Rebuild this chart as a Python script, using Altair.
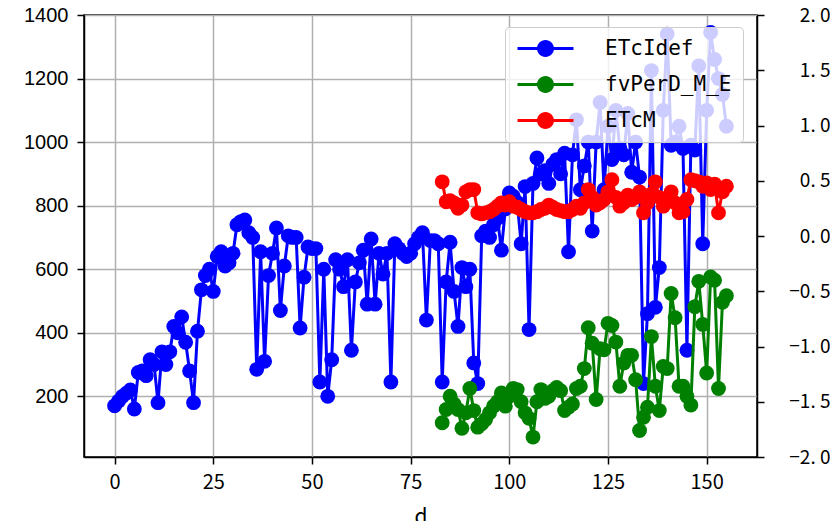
import altair as alt
import pandas as pd

# ---------------- data ----------------
series_names = ["ETcIdef", "fvPerD_M_E", "ETcM"]
series_colors = ["#0000ff", "#008000", "#ff0000"]

# ETcIdef (left axis), d = 0 .. 155
etc_idef = [170, 185, 200, 210, 220, 160, 275, 280, 265, 315,
            300, 180, 340, 300, 340, 420, 400, 450, 370, 280,
            180, 405, 535, 580, 600, 530, 640, 655, 610, 620,
            650, 740, 750, 755, 715, 700, 285, 655, 310, 580,
            650, 730, 470, 610, 705, 700, 700, 415, 575, 670,
            665, 665, 245, 600, 200, 315, 630, 600, 545, 630,
            345, 560, 620, 660, 490, 695, 490, 650, 585, 650,
            245, 680, 665, 650, 640, 650, 680, 700, 715, 440,
            690, 690, 680, 245, 560, 685, 530, 420, 605, 545,
            600, 305, 240, 705, 720, 700, 740, 760, 660, 790,
            840, 830, 810, 680, 860, 410, 870, 950, 900, 910,
            870, 930, 945, 900, 965, 655, 960, 1070, 850, 925,
            1000, 720, 1000, 1125, 850, 1050, 945, 1100, 980, 960,
            1090, 905, 1000, 890, 240, 460, 1225, 480, 605, 1100,
            1340, 990, 1000, 1050, 980, 345, 990, 975, 1240, 680,
            1100, 1345, 1260, 1200, 1150, 1050]
d_idef = list(range(len(etc_idef)))

# fvPerD_M_E and ETcM (right axis), d = 83 .. 155
fv_per = [-1.69, -1.57, -1.45, -1.52, -1.57, -1.74, -1.60, -1.38, -1.58, -1.73,
          -1.70, -1.66, -1.60, -1.54, -1.50, -1.42, -1.54, -1.45, -1.38, -1.39,
          -1.50, -1.60, -1.65, -1.82, -1.50, -1.39, -1.47, -1.45, -1.40, -1.37,
          -1.40, -1.58, -1.55, -1.52, -1.38, -1.36, -1.20, -0.83, -0.97, -1.48,
          -1.02, -1.03, -0.79, -0.81, -0.96, -1.36, -1.15, -1.08, -1.08, -1.30,
          -1.76, -1.64, -1.55, -0.91, -1.36, -1.58, -1.18, -1.20, -0.52, -0.74,
          -1.36, -1.36, -1.45, -1.53, -0.64, -0.41, -0.80, -1.24, -0.37, -0.40,
          -1.38, -0.60, -0.54]
etc_m = [0.49, 0.31, 0.32, 0.30, 0.25, 0.28, 0.40, 0.42, 0.42, 0.21,
         0.20, 0.21, 0.22, 0.24, 0.27, 0.30, 0.28, 0.31, 0.27, 0.26,
         0.24, 0.22, 0.21, 0.21, 0.22, 0.24, 0.25, 0.28, 0.26, 0.24,
         0.23, 0.22, 0.22, 0.24, 0.27, 0.25, 0.30, 0.42, 0.35, 0.28,
         0.30, 0.33, 0.40, 0.51, 0.35, 0.27, 0.30, 0.37, 0.33, 0.35,
         0.40, 0.21, 0.30, 0.38, 0.49, 0.35, 0.27, 0.33, 0.40, 0.30,
         0.21, 0.22, 0.33, 0.51, 0.50, 0.49, 0.45, 0.48, 0.42, 0.47,
         0.21, 0.40, 0.45]
d_right = list(range(83, 83 + len(etc_m)))

x_ticks = [0, 25, 50, 75, 100, 125, 150]
left_ticks = [200, 400, 600, 800, 1000, 1200, 1400]
right_ticks = [-2.0, -1.5, -1.0, -0.5, 0.0, 0.5, 1.0, 1.5, 2.0]

# ---------------- tables ----------------
df_left = pd.DataFrame({"d": d_idef, "value": etc_idef, "series": "ETcIdef"})
df_right = pd.concat([
    pd.DataFrame({"d": d_right, "value": fv_per, "series": "fvPerD_M_E"}),
    pd.DataFrame({"d": d_right, "value": etc_m, "series": "ETcM"}),
], ignore_index=True)

CJK = "Noto Sans CJK SC"

legend_symbol = ("M-2.8,-0.15L2.8,-0.15L2.8,0.15L-2.8,0.15Z"
                 "M-0.85,0A0.85,0.85,0,1,1,0.85,0A0.85,0.85,0,1,1,-0.85,0Z")


def color_enc():
    return alt.Color(
        "series:N",
        scale=alt.Scale(domain=series_names, range=series_colors),
        legend=alt.Legend(
            title=None, orient="none", legendX=421, legendY=12,
            symbolType=legend_symbol, symbolSize=400, symbolStrokeWidth=0,
            symbolOffset=19, labelOffset=49,
            labelFont="DejaVu Sans Mono", labelFontSize=21, labelColor="black",
            rowPadding=14, padding=11,
            fillColor="rgba(255,255,255,0.8)", strokeColor="#cccccc",
            cornerRadius=4,
        ),
    )


x_enc = alt.X(
    "d:Q",
    scale=alt.Scale(domain=[-7.75, 162.75], nice=False, zero=False),
    axis=alt.Axis(
        values=x_ticks, title="d", grid=True, labelFont=CJK, labelFontSize=20,
        titleFont=CJK, titleFontSize=21, titleFontWeight="normal",
        titleBaseline="alphabetic", titleY=66, labelPadding=8,
    ),
)

y_left = alt.Y(
    "value:Q",
    scale=alt.Scale(domain=[9, 1400], nice=False, zero=False),
    axis=alt.Axis(values=left_ticks, title=None, grid=True, format="d",
                  labelFont="Liberation Sans", labelFontSize=20, labelPadding=9),
)
y_right = alt.Y(
    "value:Q",
    scale=alt.Scale(domain=[-2.0, 2.0], nice=False, zero=False),
    axis=alt.Axis(values=right_ticks, title=None, grid=False, orient="right",
                  format=".1f", labelExpr="replace(datum.label, '.', '. ')",
                  labelFont=CJK, labelFontSize=19,
                  labelAlign="right", labelPadding=66),
)

left_base = alt.Chart(df_left)
left_line = left_base.mark_line(strokeWidth=3).encode(x=x_enc, y=y_left, color=color_enc())
left_pts = left_base.mark_circle(size=220, opacity=1).encode(x=x_enc, y=y_left, color=color_enc())

right_base = alt.Chart(df_right)
right_line = right_base.mark_line(strokeWidth=3).encode(x=x_enc, y=y_right, color=color_enc())
right_pts = right_base.mark_circle(size=220, opacity=1).encode(x=x_enc, y=y_right, color=color_enc())

chart = alt.layer(
    alt.layer(left_line, left_pts),
    alt.layer(right_line, right_pts),
).resolve_scale(y="independent").properties(
    width=673, height=442,
    autosize=alt.AutoSizeParams(type="none"),
    padding={"left": 76, "top": 7, "right": 73, "bottom": 64},
    background="white",
).configure_view(
    stroke="black", strokeWidth=1.5,
).configure_axis(
    domainColor="black", domainWidth=1.5, tickColor="black", tickWidth=1.5,
    tickSize=7, gridColor="#b0b0b0", gridWidth=1.5, labelColor="black",
    titleColor="black",
)

chart.save("out.html", embed_options={"renderer": "svg", "actions": False})
